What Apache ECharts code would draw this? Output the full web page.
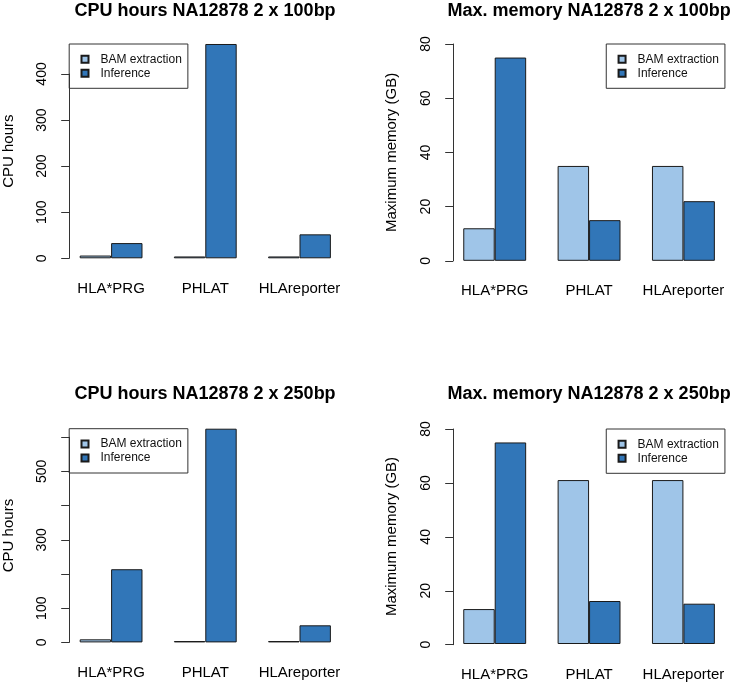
<!DOCTYPE html>
<html>
<head>
<meta charset="utf-8">
<script src="https://cdn.jsdelivr.net/npm/echarts@6/dist/echarts.min.js"></script>
<style>
html,body{margin:0;padding:0;background:#fff;}
#chart{width:733px;height:682px;}
</style>
</head>
<body>
<div id="chart"></div>
<script>
// ---- data ----
const categories = ['HLA*PRG', 'PHLAT', 'HLAreporter'];
const seriesNames = ['BAM extraction', 'Inference'];

const cpu100Bam = [6, 4, 4];
const cpu100Inf = [33, 465, 52];
const mem100Bam = [12, 35, 35];
const mem100Inf = [75, 15, 22];
const cpu250Bam = [9, 4, 4];
const cpu250Inf = [214, 625, 50];
const mem250Bam = [13, 61, 61];
const mem250Inf = [75, 16, 15];

const cpu100TickLabels = [0, 100, 200, 300, 400];
const cpu250TickLabels = [0, 100, 300, 500];
const memTickLabels = [0, 20, 40, 60, 80];

const titles = ['CPU hours NA12878 2 x 100bp', 'Max. memory NA12878 2 x 100bp',
                'CPU hours NA12878 2 x 250bp', 'Max. memory NA12878 2 x 250bp'];
const yNames = ['CPU hours', 'Maximum memory (GB)', 'CPU hours', 'Maximum memory (GB)'];

// ---- styling / layout ----
const FONT = 'Liberation Sans';
const colBam = '#9FC5E8';
const colInf = '#3176B8';
const unit = 31.45;

const panels = [
  {bam: cpu100Bam, inf: cpu100Inf, yMax: Math.max(...cpu100Inf), tickMax: 400, interval: 100, labels: cpu100TickLabels,
   plotLeft: 69.2, plotTop: 44, plotBottom: 258.3, legendSide: 'left', titleTop: 2},
  {bam: mem100Bam, inf: mem100Inf, yMax: 80, tickMax: 80, interval: 20, labels: memTickLabels,
   plotLeft: 453.2, plotTop: 44, plotBottom: 260.8, legendSide: 'right', titleTop: 2},
  {bam: cpu250Bam, inf: cpu250Inf, yMax: Math.max(...cpu250Inf), tickMax: 600, interval: 100, labels: cpu250TickLabels,
   plotLeft: 69.2, plotTop: 428.7, plotBottom: 642.4, legendSide: 'left', titleTop: 385},
  {bam: mem250Bam, inf: mem250Inf, yMax: 80, tickMax: 80, interval: 20, labels: memTickLabels,
   plotLeft: 453.2, plotTop: 429, plotBottom: 644.7, legendSide: 'right', titleTop: 385}
];

const grid = [], xAxis = [], yAxis = [], series = [], title = [], legend = [];

panels.forEach((p, i) => {
  const plotH = p.plotBottom - p.plotTop;
  const gridLeft = p.plotLeft - 0.18 * unit;
  const plotRight = p.plotLeft + 8.64 * unit;
  const gi = grid.length;
  grid.push({left: gridLeft, top: p.plotTop, width: 9 * unit, height: plotH, containLabel: false});
  const axisTop = p.plotBottom - plotH * p.tickMax / p.yMax;
  grid.push({left: p.plotLeft, top: axisTop, width: 10, height: p.plotBottom - axisTop, containLabel: false});

  xAxis.push({
    type: 'category', gridIndex: gi, data: categories,
    axisLine: {show: false}, axisTick: {show: false},
    axisLabel: {fontSize: 15, margin: 23, color: '#000', fontFamily: FONT, interval: 0},
    splitLine: {show: false}
  });
  xAxis.push({type: 'value', gridIndex: gi + 1, show: false});

  yAxis.push({
    type: 'value', gridIndex: gi, min: 0, max: p.yMax,
    axisLine: {show: false}, axisTick: {show: false}, axisLabel: {show: false}, splitLine: {show: false},
    name: yNames[i], nameLocation: 'middle', nameGap: 48,
    nameTextStyle: {fontSize: 15, color: '#000', fontFamily: FONT}
  });
  const shown = p.labels;
  yAxis.push({
    type: 'value', gridIndex: gi + 1, min: 0, max: p.tickMax, interval: p.interval,
    axisLine: {show: true, lineStyle: {color: '#333', width: 1}},
    axisTick: {show: true, length: 8, lineStyle: {color: '#333', width: 1}},
    axisLabel: {show: true, rotate: 90, margin: 20, fontSize: 14, color: '#000', fontFamily: FONT,
      formatter: v => shown.includes(v) ? String(v) : ''},
    splitLine: {show: false}
  });

  const xi = xAxis.length - 2, yi = yAxis.length - 2;
  series.push({
    type: 'bar', name: seriesNames[0], xAxisIndex: xi, yAxisIndex: yi, data: p.bam,
    barWidth: '33.333%', barGap: '0%',
    itemStyle: {color: colBam, borderColor: '#1a1a1a', borderWidth: 1},
    emphasis: {disabled: true}, animation: false
  });
  series.push({
    type: 'bar', name: seriesNames[1], xAxisIndex: xi, yAxisIndex: yi, data: p.inf,
    barWidth: '33.333%', barGap: '0%',
    itemStyle: {color: colInf, borderColor: '#1a1a1a', borderWidth: 1},
    emphasis: {disabled: true}, animation: false
  });

  title.push({
    text: titles[i], left: (p.plotLeft + plotRight) / 2, textAlign: 'center', top: p.titleTop, padding: 0,
    textStyle: {fontSize: 18, fontWeight: 'bold', color: '#000', fontFamily: FONT}
  });

  const lg = {
    data: seriesNames, orient: 'vertical', top: p.plotTop,
    borderColor: '#333', borderWidth: 1, padding: [9.3, 6, 9, 11.3],
    itemWidth: 7, itemHeight: 7, itemGap: 2, icon: 'rect',
    selectedMode: false,
    textStyle: {fontSize: 12, color: '#111', fontFamily: FONT, padding: [0, 0, 0, 7]}
  };
  if (p.legendSide === 'left') lg.left = p.plotLeft; else lg.right = 733 - plotRight;
  legend.push(lg);
});

const chart = echarts.init(document.getElementById('chart'), null, {renderer: 'canvas'});
chart.setOption({
  animation: false,
  backgroundColor: '#fff',
  textStyle: {fontFamily: FONT},
  title, legend, grid, xAxis, yAxis, series
});
</script>
</body>
</html>
